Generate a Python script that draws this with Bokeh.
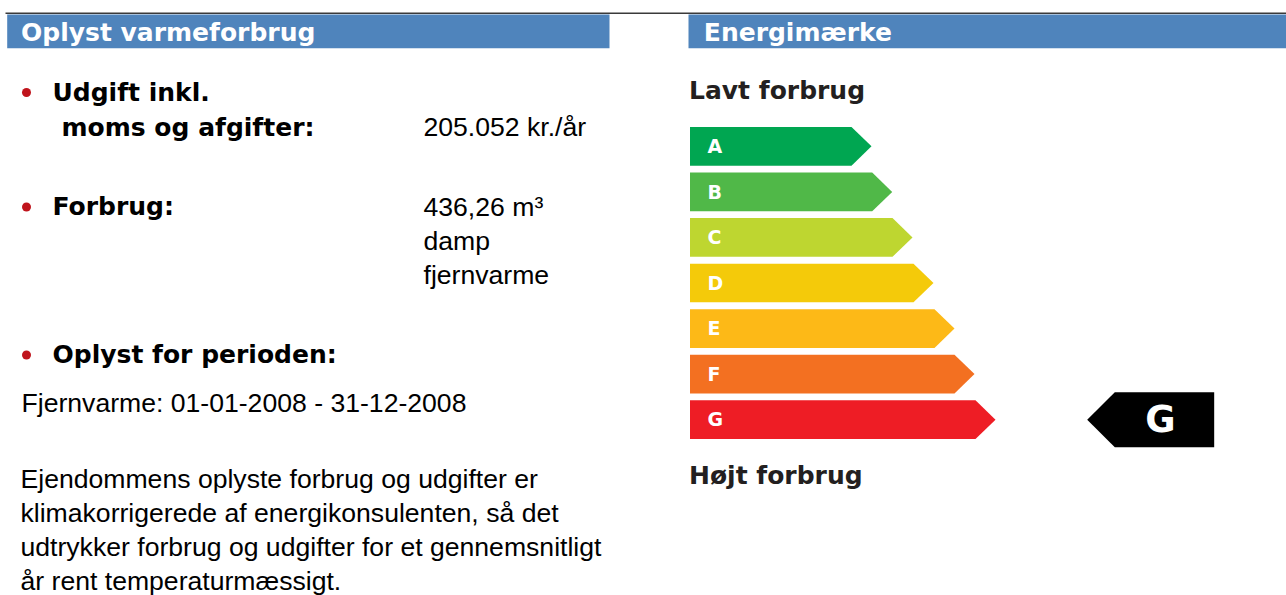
from bokeh.plotting import figure
from bokeh.models import Range1d
from bokeh.embed import file_html
from bokeh.resources import INLINE
from bokeh.core.properties import value

# ---------------- data ----------------
section_titles = ["Oplyst varmeforbrug", "Energimærke"]
cost_label = ["Udgift inkl.", "moms og afgifter:"]
cost_value = "205.052 kr./år"
consumption_label = "Forbrug:"
consumption_value = ["436,26 m³", "damp", "fjernvarme"]
period_label = "Oplyst for perioden:"
period_value = "Fjernvarme: 01-01-2008 - 31-12-2008"
note_lines = [
    "Ejendommens oplyste forbrug og udgifter er",
    "klimakorrigerede af energikonsulenten, så det",
    "udtrykker forbrug og udgifter for et gennemsnitligt",
    "år rent temperaturmæssigt.",
]
scale_top = "Lavt forbrug"
scale_bottom = "Højt forbrug"
classes = ["A", "B", "C", "D", "E", "F", "G"]
class_colors = ["#00A651", "#50B848", "#BED630", "#F4CA0A", "#FDB917", "#F37021", "#EE1D25"]
class_bar_lengths = [181.5, 202.2, 222.5, 243.5, 264.5, 284.5, 305.5]
current_class = "G"

# ---------------- style ----------------
BLUE = "#4F84BC"
BULLET = "#C0141C"
HEAVY = value("DejaVu Sans")
PLAIN = value("Liberation Sans")
W, H = 1286, 595

p = figure(width=W, height=H, x_range=Range1d(0, W), y_range=Range1d(H, 0),
           output_backend="svg", toolbar_location=None, min_border=0,
           x_axis_location=None, y_axis_location=None)
p.grid.visible = False
p.outline_line_color = None
p.background_fill_color = "white"
p.border_fill_color = "white"

# baseline correction for text placement (fraction of font size)
K = 0.39


def heavy(xs, baselines, texts, color="#000000", size=25, align="left"):
    p.text(x=xs, y=[b - K * size for b in baselines], text=texts, text_font=HEAVY,
           text_font_style="bold", text_font_size=f"{size}px", text_color=color,
           text_baseline="alphabetic", text_align=align)


def plain(xs, baselines, texts, color="#000000", size=26.6):
    p.text(x=xs, y=[b - K * size for b in baselines], text=texts, text_font=PLAIN,
           text_font_size=f"{size}px", text_color=color,
           text_baseline="alphabetic", text_align="left")


# top rule
p.segment(x0=[5], y0=[12.7], x1=[W], y1=[12.7], line_color="#3a3a3a", line_width=1.5)

# section header bars
p.quad(left=[6.7, 688], right=[609, W], top=[14, 14], bottom=[47.7, 47.7],
       fill_color=BLUE, line_color=None)
heavy([20.5, 703.3], [41.5, 41.5], section_titles, color="white")

# left column
label_baselines = [101.5, 216, 364]
heavy([52, 61, 52, 52], [101.5, 137, 216, 364],
      [cost_label[0], cost_label[1], consumption_label, period_label])
p.scatter(x=[26] * 3, y=[b - 9.5 for b in label_baselines], size=9,
          marker="circle", fill_color=BULLET, line_color=None)

plain([423], [136.5], [cost_value])
plain([423] * 3, [216.5 + 34.2 * i for i in range(3)], consumption_value)
plain([21], [412.5], [period_value])
plain([20] * 4, [489 + 34.1 * i for i in range(4)], note_lines)

# energy label scale
heavy([688.5, 688.5], [99.3, 485], [scale_top, scale_bottom], color="#231F20")

left = 689.5
top0 = 126.5
pitch = 45.55
h = 38.7
depth = 20.0
xs, ys, centers = [], [], []
for i, L in enumerate(class_bar_lengths):
    t = top0 + i * pitch
    tip = left + L
    xs.append([left, tip - depth, tip, tip - depth, left])
    ys.append([t, t, t + h / 2, t + h, t + h])
    centers.append(t + h / 2)
p.patches(xs=xs, ys=ys, fill_color=class_colors, line_color=None)
heavy([707] * len(classes), [c + 7.2 for c in centers], classes, color="white", size=19)

# current rating badge
cy = centers[classes.index(current_class)]
half = 27.5
bx_tip, bx_body, bx_right = 1086.7, 1114.3, 1213.7
p.patch(x=[bx_right, bx_body, bx_tip, bx_body, bx_right],
        y=[cy - half, cy - half, cy, cy + half, cy + half],
        fill_color="black", line_color=None)
heavy([1160], [cy + 13.8], [current_class], color="white", size=37, align="center")

open("out.html", "w").write(file_html(p, INLINE))
